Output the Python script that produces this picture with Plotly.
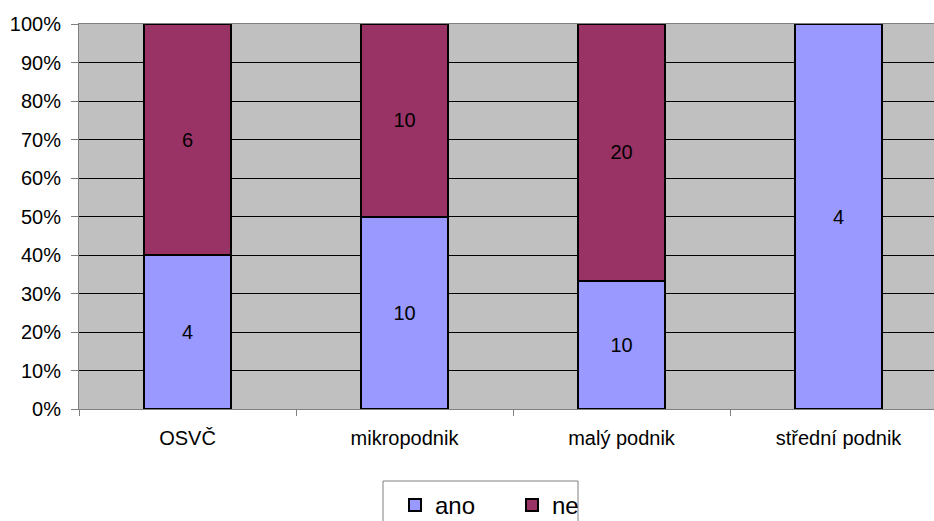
import plotly.graph_objects as go

# Survey answers by company size (counts); bars are normalised to 100 %
categories = ["OSVČ", "mikropodnik", "malý podnik", "střední podnik"]
ano_counts = [4, 10, 10, 4]
ne_counts = [6, 10, 20, 0]

FONT = "Arial, Liberation Sans, sans-serif"

# plot area in pixels: left 79, top 24, bottom 409, width 855, height 385
PL, PT, PB, PW, PH = 79, 24, 409, 855, 385


def labels(values):
    return [str(v) if v else "" for v in values]


def px_x(px):
    return (px - PL) / PW


def px_y(py):
    return (PB - py) / PH


fig = go.Figure()
fig.add_trace(go.Bar(
    name="ano", x=categories, y=ano_counts, text=labels(ano_counts),
    marker=dict(color="#9999FF", line=dict(color="black", width=2)),
))
fig.add_trace(go.Bar(
    name="ne", x=categories, y=ne_counts, text=labels(ne_counts),
    marker=dict(color="#993366", line=dict(color="black", width=2)),
))
fig.update_traces(
    textposition="inside", insidetextanchor="middle", textangle=0,
    textfont=dict(family=FONT, size=20, color="black"),
    cliponaxis=False,
)

# legend frame
fig.add_shape(
    type="rect", xref="paper", yref="paper",
    x0=px_x(383), x1=px_x(578), y0=px_y(481), y1=px_y(540),
    line=dict(color="#808080", width=1), fillcolor="white", layer="below",
)

fig.update_layout(
    width=934, height=521,
    margin=dict(l=PL, r=0, t=PT, b=521 - PB),
    barmode="stack", barnorm="percent", bargap=0.6,
    paper_bgcolor="white", plot_bgcolor="#C0C0C0",
    font=dict(family=FONT, size=20, color="black"),
    showlegend=True,
    legend=dict(
        orientation="h", xref="container", yref="container",
        x=395 / 934, xanchor="left", y=1 - 483 / 521, yanchor="top",
        borderwidth=0, bgcolor="rgba(0,0,0,0)",
        font=dict(family=FONT, size=24, color="black"),
        traceorder="normal", entrywidth=72,
    ),
    xaxis=dict(
        type="category", range=[-0.5, 3.44],
        showline=True, linecolor="#808080", linewidth=1, mirror=True,
        ticks="outside", tickson="boundaries", ticklen=6, tickcolor="#808080",
        showgrid=False, ticklabelstandoff=11,
        tickfont=dict(family=FONT, size=20, color="black"),
    ),
    yaxis=dict(
        range=[0, 100], dtick=10, ticksuffix="%",
        showline=True, linecolor="#808080", linewidth=1,
        ticks="outside", ticklen=7, tickcolor="#808080",
        showgrid=True, gridcolor="black", gridwidth=1,
        zeroline=False, ticklabelstandoff=6,
        tickfont=dict(family=FONT, size=20, color="black"),
    ),
)

fig.write_html("out.html")
